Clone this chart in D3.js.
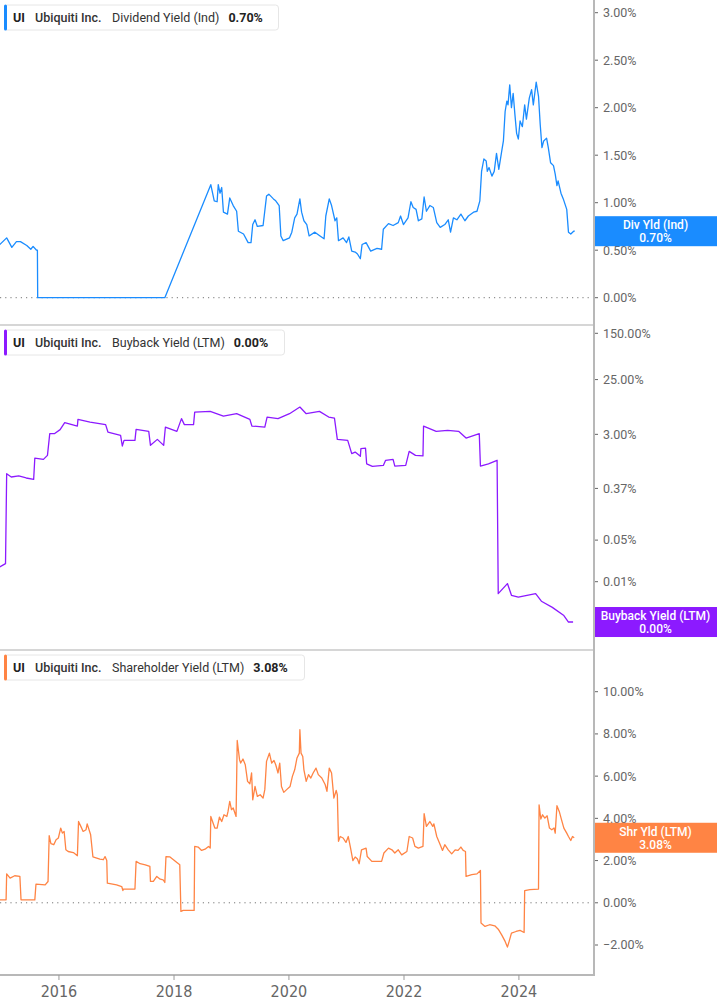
<!DOCTYPE html>
<html><head><meta charset="utf-8">
<script src="https://cdn.jsdelivr.net/npm/d3@7"></script>
<style>
body{margin:0;background:#fff;}
svg{display:block;font-family:Roboto,"Noto Sans",sans-serif;}
</style></head><body>
<svg id="c" width="717" height="1005"></svg>
<script>
// ---------- DATA ----------
const divDates = [2014.97,2015.09,2015.18,2015.26,2015.33,2015.44,2015.51,2015.55,2015.61,2015.625,2015.63,2017.84,2018.64,2018.70,2018.75,2018.77,2018.80,2018.83,2018.86,2018.93,2018.97,2019.03,2019.09,2019.12,2019.21,2019.29,2019.34,2019.37,2019.41,2019.45,2019.55,2019.61,2019.65,2019.73,2019.77,2019.83,2019.86,2019.90,2020.01,2020.05,2020.10,2020.14,2020.19,2020.22,2020.26,2020.31,2020.35,2020.45,2020.54,2020.61,2020.64,2020.70,2020.74,2020.80,2020.83,2020.86,2020.94,2021.00,2021.04,2021.09,2021.15,2021.19,2021.24,2021.27,2021.34,2021.42,2021.53,2021.61,2021.64,2021.73,2021.81,2021.90,2021.94,2021.99,2022.07,2022.12,2022.16,2022.21,2022.25,2022.31,2022.35,2022.39,2022.45,2022.51,2022.57,2022.63,2022.71,2022.77,2022.81,2022.86,2022.92,2022.99,2023.06,2023.12,2023.21,2023.27,2023.32,2023.35,2023.39,2023.43,2023.45,2023.48,2023.53,2023.57,2023.61,2023.65,2023.70,2023.73,2023.76,2023.79,2023.81,2023.84,2023.87,2023.90,2023.93,2023.96,2023.99,2024.02,2024.06,2024.10,2024.13,2024.18,2024.22,2024.25,2024.30,2024.34,2024.37,2024.40,2024.43,2024.48,2024.51,2024.55,2024.60,2024.63,2024.66,2024.68,2024.73,2024.77,2024.83,2024.86,2024.90,2024.95,2024.97];
const divValues = [0.56,0.63,0.53,0.59,0.59,0.55,0.51,0.54,0.50,0.50,0.00,0.00,1.19,1.02,1.01,1.19,1.10,1.16,0.90,0.88,1.05,0.97,0.91,0.70,0.67,0.58,0.58,0.77,0.82,0.75,0.76,1.07,1.09,1.04,1.02,0.97,0.65,0.60,0.63,0.69,0.84,0.88,1.04,0.90,0.81,0.77,0.65,0.69,0.65,0.62,0.86,1.04,0.97,0.81,0.84,0.60,0.63,0.58,0.64,0.49,0.48,0.46,0.41,0.56,0.58,0.49,0.52,0.51,0.72,0.78,0.76,0.79,0.86,0.77,0.84,1.01,0.95,0.93,0.81,0.83,1.06,0.91,0.97,0.95,0.79,0.74,0.77,0.82,0.69,0.84,0.82,0.88,0.81,0.86,0.90,0.91,1.02,1.33,1.46,1.44,1.33,1.37,1.28,1.33,1.52,1.35,1.54,1.65,1.96,2.07,2.03,2.24,2.00,2.15,1.93,1.73,1.67,1.86,1.80,2.03,1.88,2.10,2.19,2.03,2.27,2.12,1.82,1.58,1.65,1.68,1.58,1.42,1.39,1.30,1.18,1.23,1.10,1.04,0.93,0.69,0.67,0.70,0.70];

const buyDates = [2014.97,2015.07,2015.09,2015.17,2015.30,2015.43,2015.56,2015.58,2015.73,2015.80,2015.84,2015.92,2016.02,2016.10,2016.32,2016.33,2016.54,2016.81,2016.85,2017.07,2017.10,2017.13,2017.32,2017.34,2017.56,2017.59,2017.71,2017.82,2017.85,2018.05,2018.13,2018.18,2018.34,2018.36,2018.63,2018.86,2019.09,2019.32,2019.355,2019.58,2019.62,2019.81,2020.01,2020.19,2020.30,2020.53,2020.69,2020.79,2020.84,2021.02,2021.09,2021.15,2021.24,2021.25,2021.33,2021.35,2021.45,2021.64,2021.68,2021.81,2021.84,2022.03,2022.09,2022.20,2022.33,2022.34,2022.56,2022.76,2022.95,2023.08,2023.31,2023.33,2023.47,2023.62,2023.64,2023.80,2023.87,2023.99,2024.29,2024.39,2024.58,2024.78,2024.86,2024.94];
const buyValues = [0.0177,0.0201,0.655,0.576,0.599,0.554,0.526,1.20,1.14,1.33,3.08,3.08,3.6,4.72,4.14,5.36,4.83,4.37,3.28,2.89,1.91,2.38,2.38,3.64,3.37,1.96,2.47,1.96,3.98,3.37,5.51,4.37,4.37,7.11,7.31,6.09,6.68,5.36,4.14,3.98,5.86,5.51,6.68,8.63,6.68,7.31,5.86,5.64,2.47,2.38,1.42,1.51,1.28,1.73,1.76,0.96,0.87,0.90,1.10,1.14,0.88,0.90,1.55,1.33,1.30,4.14,3.37,3.5,3.37,2.60,3.08,0.88,0.96,1.10,0.0063,0.0093,0.0059,0.0055,0.0063,0.0047,0.0037,0.0027,0.0021,0.0021];

const shrDates = [2014.97,2015.08,2015.09,2015.15,2015.23,2015.32,2015.34,2015.58,2015.60,2015.76,2015.81,2015.83,2015.86,2015.91,2015.95,2015.99,2016.03,2016.06,2016.09,2016.12,2016.16,2016.25,2016.32,2016.34,2016.38,2016.42,2016.47,2016.49,2016.55,2016.59,2016.71,2016.77,2016.80,2016.83,2016.84,2017.00,2017.09,2017.11,2017.12,2017.32,2017.34,2017.41,2017.50,2017.58,2017.59,2017.64,2017.70,2017.76,2017.81,2017.84,2017.86,2017.93,2017.99,2018.05,2018.10,2018.12,2018.16,2018.35,2018.36,2018.42,2018.48,2018.54,2018.60,2018.63,2018.64,2018.71,2018.75,2018.79,2018.83,2018.87,2018.92,2018.94,2018.97,2019.00,2019.03,2019.08,2019.10,2019.14,2019.16,2019.20,2019.24,2019.28,2019.32,2019.35,2019.37,2019.41,2019.45,2019.50,2019.55,2019.58,2019.61,2019.66,2019.70,2019.74,2019.77,2019.81,2019.84,2019.87,2019.91,2019.96,2020.02,2020.06,2020.10,2020.14,2020.18,2020.19,2020.21,2020.24,2020.26,2020.30,2020.34,2020.38,2020.42,2020.47,2020.51,2020.57,2020.63,2020.66,2020.70,2020.74,2020.78,2020.82,2020.84,2020.86,2020.89,2020.94,2020.99,2021.03,2021.07,2021.11,2021.15,2021.19,2021.22,2021.26,2021.34,2021.36,2021.44,2021.53,2021.61,2021.65,2021.73,2021.79,2021.84,2021.90,2021.96,2022.05,2022.09,2022.15,2022.19,2022.25,2022.33,2022.35,2022.39,2022.45,2022.50,2022.52,2022.57,2022.63,2022.67,2022.71,2022.77,2022.83,2022.89,2022.94,2022.99,2023.03,2023.07,2023.08,2023.18,2023.27,2023.33,2023.34,2023.41,2023.49,2023.58,2023.64,2023.70,2023.76,2023.80,2023.83,2023.87,2023.95,2024.02,2024.09,2024.10,2024.19,2024.34,2024.35,2024.38,2024.41,2024.45,2024.49,2024.53,2024.57,2024.61,2024.63,2024.66,2024.70,2024.74,2024.78,2024.83,2024.86,2024.90,2024.93,2024.96];
const shrValues = [0.14,0.14,1.37,1.17,1.28,1.25,0.14,0.14,0.88,0.85,1.01,3.18,2.80,2.75,2.99,3.07,3.54,3.30,3.38,2.51,2.43,2.38,2.23,3.85,3.62,3.38,3.46,3.74,3.22,2.17,2.07,2.04,2.19,2.00,0.93,0.85,0.77,0.58,0.65,0.65,1.96,1.85,1.80,1.72,1.01,1.01,1.25,1.12,1.09,0.96,2.19,2.17,2.04,1.91,1.80,-0.41,-0.36,-0.36,2.67,2.64,2.48,2.54,2.67,2.59,4.09,3.54,3.54,4.06,3.85,4.17,4.09,4.33,4.80,4.41,4.49,4.09,7.69,6.78,6.62,6.81,6.54,5.75,5.64,6.15,4.88,5.51,5.04,5.12,4.96,5.36,6.70,7.09,6.62,6.74,6.54,6.15,6.62,5.51,5.23,5.36,5.51,5.99,6.30,6.86,7.09,8.20,7.09,6.93,6.30,5.75,6.07,5.91,6.15,6.38,6.07,5.91,5.59,5.28,6.38,6.15,4.96,5.32,5.12,2.91,3.14,3.07,2.86,3.14,2.59,2.00,2.17,2.07,1.85,2.51,2.59,2.19,1.96,1.96,1.96,2.36,2.59,2.51,2.36,2.51,2.27,2.43,3.14,3.07,2.67,2.59,2.67,4.22,3.62,3.85,3.62,3.74,3.14,2.75,2.48,2.75,2.51,2.32,2.51,2.48,2.64,2.48,2.43,1.25,1.33,1.37,1.53,-0.96,-1.12,-1.04,-1.09,-1.25,-1.52,-1.83,-2.10,-1.83,-1.44,-1.36,-1.31,-1.41,0.58,0.62,0.65,4.64,3.97,4.17,4.01,4.12,3.54,3.46,3.54,3.30,4.60,4.33,3.93,3.54,3.30,3.14,2.95,3.14,3.08];

const divTicks = [0,0.5,1,1.5,2,2.5,3];
const buyTicks = [0.01,0.05,0.37,3,25,150];
const shrTicks = [-2,0,2,4,6,8,10];
const xTickYears = [2016,2018,2020,2022,2024];

const panels = [
  {legend:"Dividend Yield (Ind)", tag:"Div Yld (Ind)", color:"#1a8cff", dates:divDates, values:divValues, ticks:divTicks, type:"lin", domain:[0,3], range:[297.7,12.7], zero:true, top:0, legendW:274},
  {legend:"Buyback Yield (LTM)", tag:"Buyback Yield (LTM)", color:"#8c1aff", dates:buyDates, values:buyValues, ticks:buyTicks, type:"log", domain:[0.01,150], range:[581.7,333.3], zero:false, top:325, legendW:280},
  {legend:"Shareholder Yield (LTM)", tag:"Shr Yld (LTM)", color:"#ff8444", dates:shrDates, values:shrValues, ticks:shrTicks, type:"lin", domain:[-2,10], range:[945,691.7], zero:true, top:650, legendW:300}
];

// ---------- HELPERS ----------
function decToDate(t){
  const y = Math.floor(t);
  const a = Date.UTC(y,0,1), b = Date.UTC(y+1,0,1);
  return new Date(a + (t-y)*(b-a));
}
const fmt = v => d3.format(".2f")(v) + "%";

const svg = d3.select("#c");
const W = 717, axisX = 594, bottomY = 975;

const x = d3.scaleUtc().domain([decToDate(2014.974), decToDate(2025.304)]).range([0, axisX]);

// separators
svg.append("line").attr("x1",0).attr("x2",axisX).attr("y1",325).attr("y2",325).attr("stroke","#c8c8c8").attr("stroke-width",1.5);
svg.append("line").attr("x1",0).attr("x2",axisX).attr("y1",650).attr("y2",650).attr("stroke","#c8c8c8").attr("stroke-width",1.5);

panels.forEach(p => {
  const y = (p.type==="log" ? d3.scaleLog() : d3.scaleLinear()).domain(p.domain).range(p.range);
  const data = p.dates.map((d,i)=>({d:decToDate(d), v:p.values[i]}));

  if (p.zero) {
    svg.append("line").attr("x1",0).attr("x2",axisX-4).attr("y1",y(0)).attr("y2",y(0))
      .attr("stroke","#777").attr("stroke-width",1).attr("stroke-dasharray","1.2,4");
  }

  svg.append("path").datum(data)
    .attr("fill","none").attr("stroke",p.color).attr("stroke-width",1.3).attr("stroke-linejoin","round")
    .attr("d", d3.line().x(d=>x(d.d)).y(d=>y(d.v)));

  // y axis ticks
  const g = svg.append("g");
  p.ticks.forEach(t => {
    g.append("line").attr("x1",axisX).attr("x2",axisX+4).attr("y1",y(t)).attr("y2",y(t)).attr("stroke","#666").attr("stroke-width",1);
    g.append("text").attr("x",603).attr("y",y(t)).attr("dy","0.35em")
      .attr("font-size","12.5px").attr("fill","#666").text(fmt(t));
  });

  // end tag
  const last = data[data.length-1];
  const cy = y(last.v);
  svg.append("rect").attr("x",axisX).attr("y",cy-15).attr("width",W-axisX).attr("height",30).attr("fill",p.color);
  svg.append("text").attr("x",(axisX+W)/2).attr("y",cy-2).attr("text-anchor","middle")
    .attr("font-size","12px").attr("font-weight",500).attr("fill","#fff").text(p.tag);
  svg.append("text").attr("x",(axisX+W)/2).attr("y",cy+11).attr("text-anchor","middle")
    .attr("font-size","12px").attr("font-weight",500).attr("fill","#fff").text(fmt(last.v));

  // legend
  const lg = svg.append("g").attr("transform",`translate(4,${p.top+4.5})`);
  lg.append("rect").attr("x",0.5).attr("y",0.5).attr("width",p.legendW).attr("height",25).attr("rx",3)
    .attr("fill","#fff").attr("stroke","#e6e6e6");
  lg.append("rect").attr("x",0).attr("y",0).attr("width",3).attr("height",26).attr("rx",1.5).attr("fill",p.color);
  const ty = 17;
  lg.append("text").attr("x",9).attr("y",ty).attr("font-size","12.5px").attr("font-weight",700).attr("fill","#222").text("UI");
  lg.append("text").attr("x",31).attr("y",ty).attr("font-size","12.5px").attr("font-weight",500).attr("fill","#333").text("Ubiquiti Inc.");
  lg.append("text").attr("x",108).attr("y",ty).attr("font-size","12.5px").attr("font-weight",400).attr("fill","#333").text(p.legend);
  const nameW = lg.node().lastChild.getComputedTextLength();
  lg.append("text").attr("x",108+nameW+9).attr("y",ty).attr("font-size","12.5px").attr("font-weight",700).attr("fill","#222").text(fmt(last.v));
});

// right axis line & bottom axis line
svg.append("line").attr("x1",axisX).attr("x2",axisX).attr("y1",0).attr("y2",bottomY+1).attr("stroke","#b8b8b8").attr("stroke-width",2);
svg.append("line").attr("x1",0).attr("x2",axisX+1).attr("y1",bottomY).attr("y2",bottomY).attr("stroke","#b8b8b8").attr("stroke-width",2);

// x axis
const xa = svg.append("g");
xTickYears.forEach(yr => {
  const px = x(decToDate(yr));
  xa.append("line").attr("x1",px).attr("x2",px).attr("y1",bottomY).attr("y2",bottomY+5).attr("stroke","#999").attr("stroke-width",1);
  xa.append("text").attr("x",px).attr("y",997).attr("text-anchor","middle")
    .attr("font-family","'Liberation Sans Narrow','DejaVu Sans Condensed',sans-serif")
    .attr("font-size","16px").attr("fill","#666").text(String(yr));
});
</script>
</body></html>
